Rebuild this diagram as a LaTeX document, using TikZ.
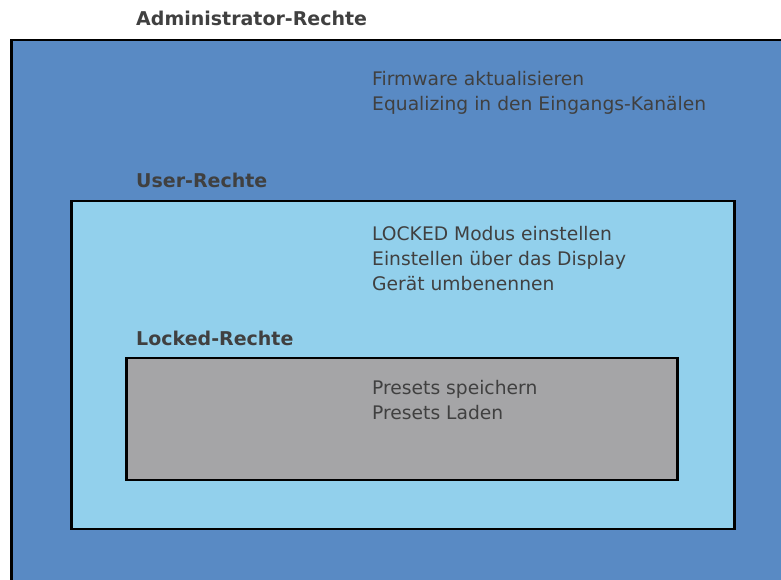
\documentclass[tikz,border=0pt]{standalone}
\usepackage{fontspec}
\setmainfont{DejaVu Sans}
\usetikzlibrary{positioning}
\definecolor{adminblue}{RGB}{89,138,196}
\definecolor{userblue}{RGB}{146,208,236}
\definecolor{lockedgray}{RGB}{165,165,167}
\definecolor{textgray}{RGB}{64,64,64}
\tikzset{
    region/.style = {rectangle, draw=black, line width=2.5pt, anchor=north west, inner sep=0pt},
    heading/.style = {anchor=base west, inner sep=0pt, text=textgray, font=\bfseries\fontsize{19}{22}\selectfont},
    rights/.style = {anchor=base west, inner sep=0pt, align=left, text=textgray, font=\fontsize{18.7}{25}\selectfont}
}
\begin{document}
\begin{tikzpicture}[x=1pt, y=-1pt]
\useasboundingbox (0,0) rectangle (781,580);
\clip (0,0) rectangle (781,580);

% Boxes
\node[region, fill=adminblue, minimum width=790pt, minimum height=560pt] (admin_box) at (10,39) {};
\node[region, fill=userblue, minimum width=663pt, minimum height=328pt] (user_box) at (70,199.5) {};
\node[region, fill=lockedgray, minimum width=551pt, minimum height=122pt] (locked_box) at (125,356.5) {};

% Headings
\node[heading] (admin_head) at (136,26) {Administrator-Rechte};
\node[heading] (user_head) at (136,187) {User-Rechte};
\node[heading] (locked_head) at (136,345) {Locked-Rechte};

% Rights (base = last line)
\node[rights] (admin_list) at (372,111) {Firmware aktualisieren\\Equalizing in den Eingangs-Kanälen};
\node[rights] (user_list) at (372,290) {LOCKED Modus einstellen\\Einstellen über das Display\\Gerät umbenennen};
\node[rights] (locked_list) at (372,419) {Presets speichern\\Presets Laden};

\end{tikzpicture}
\end{document}
